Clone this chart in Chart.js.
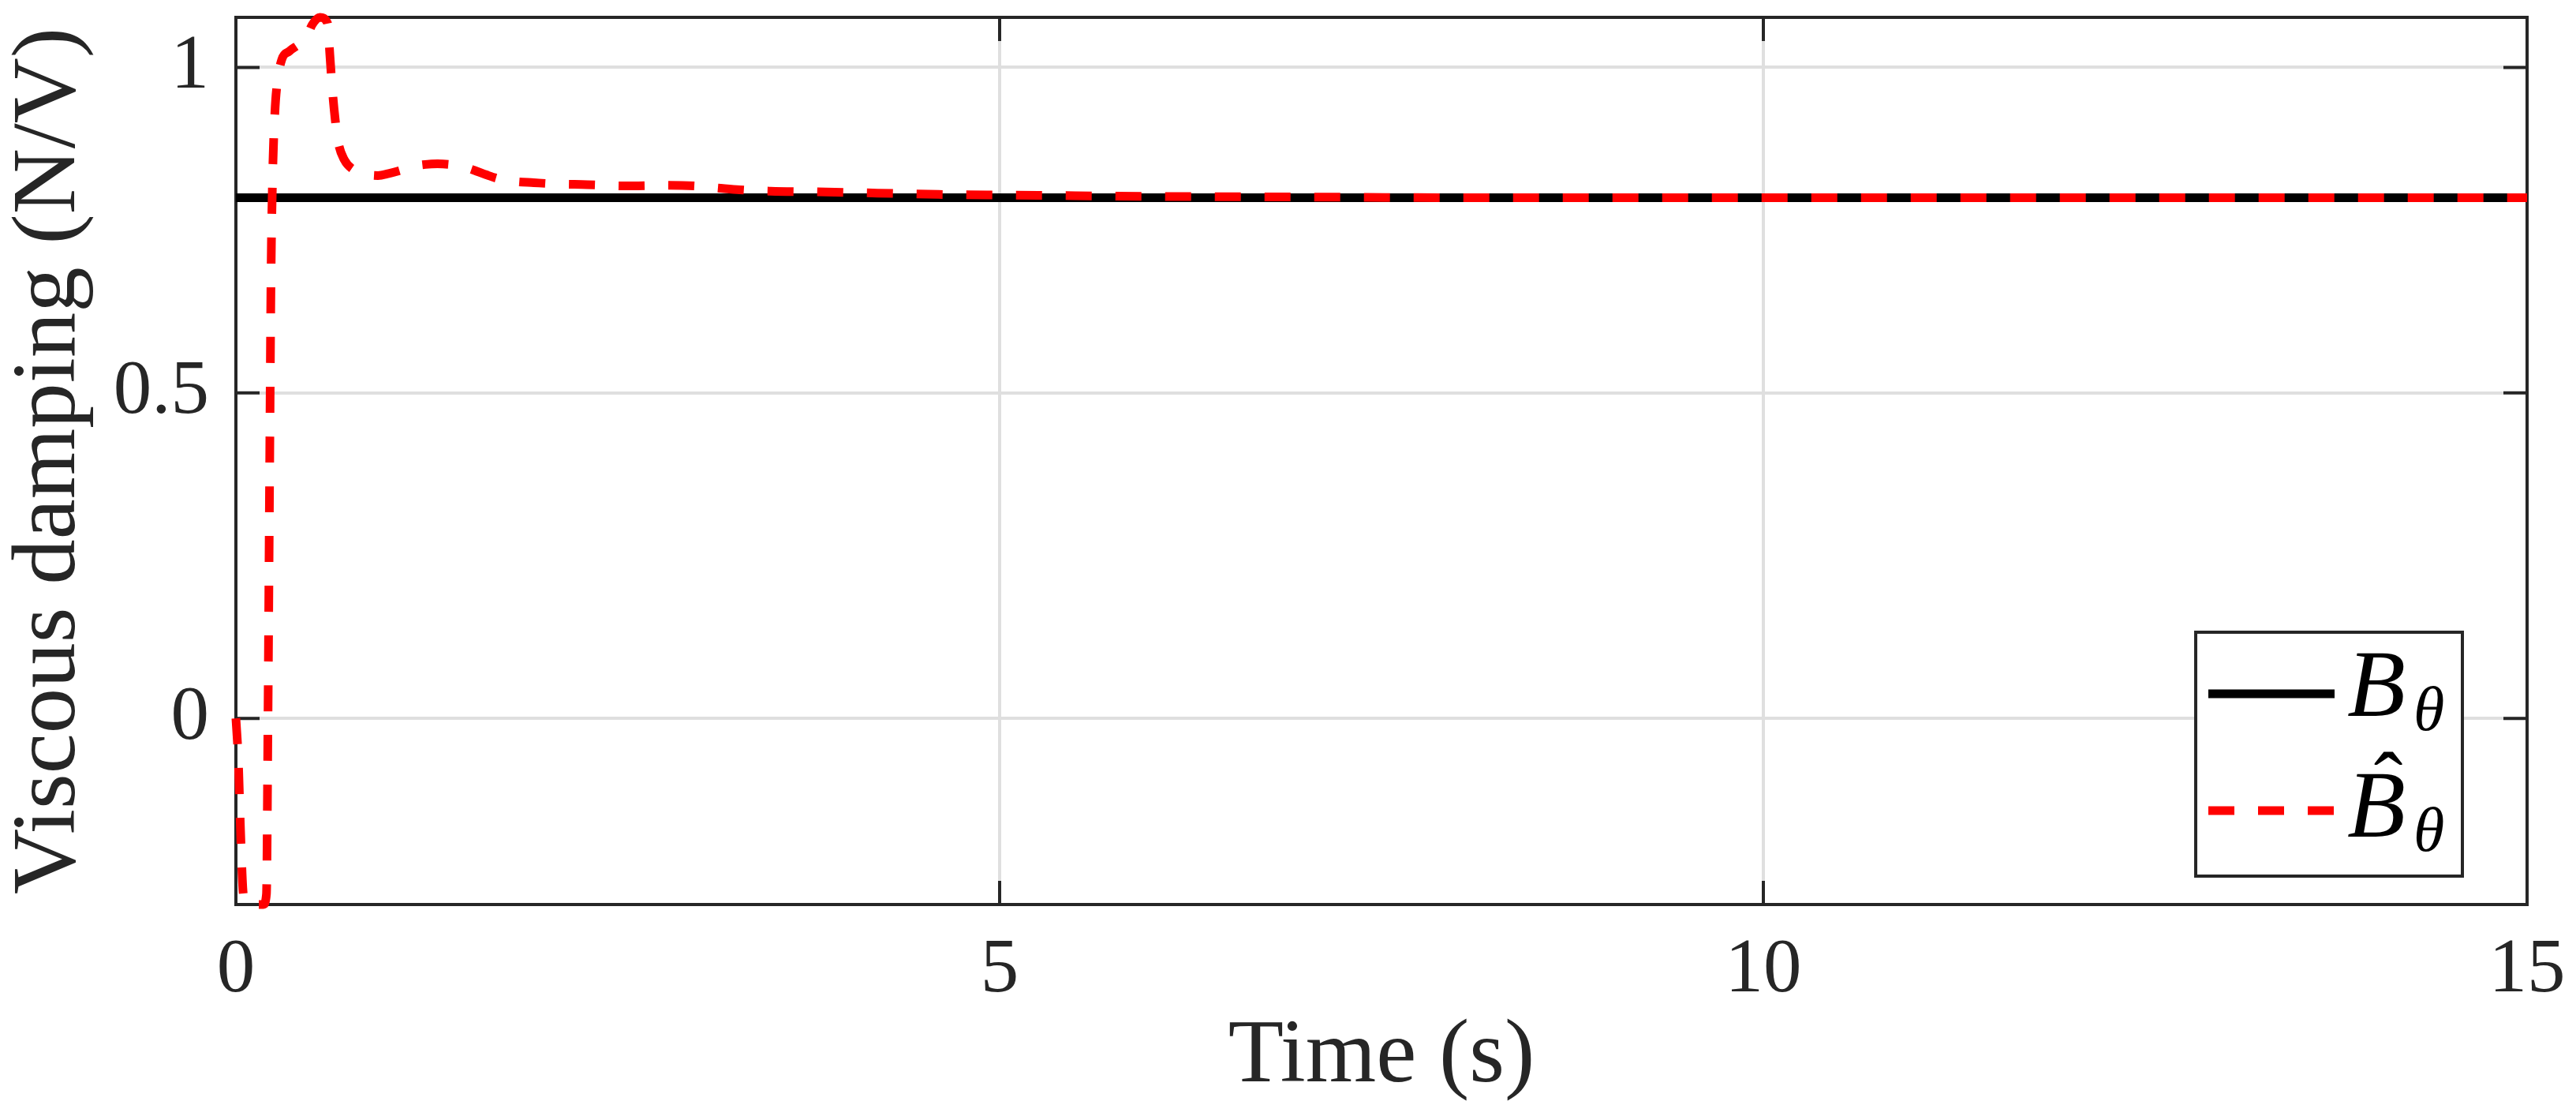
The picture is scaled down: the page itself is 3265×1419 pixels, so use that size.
<!DOCTYPE html>
<html>
<head>
<meta charset="utf-8">
<script src="https://cdn.jsdelivr.net/npm/chart.js@4.4.1/dist/chart.umd.min.js"></script>
<style>
  html, body { margin: 0; padding: 0; background: #fff; overflow: hidden; }
  canvas { display: block; }
</style>
</head>
<body>
<canvas id="dampingChart" width="3265" height="1419"></canvas>
<script>
// estimated viscous damping (red dashed)
const timeS = [0, 0.015, 0.03, 0.045, 0.06, 0.1, 0.14, 0.18, 0.2, 0.21, 0.22, 0.23, 0.24, 0.255, 0.27, 0.3,
  0.35, 0.41, 0.46, 0.5, 0.55, 0.6, 0.615, 0.63, 0.65, 0.67, 0.71, 0.77, 0.85, 0.93, 1.0, 1.08, 1.16, 1.24,
  1.32, 1.4, 1.48, 1.56, 1.64, 1.72, 1.82, 1.95, 2.1, 2.3, 2.55, 2.8, 3.0, 3.15, 3.3, 3.5, 3.8, 4.2, 4.6,
  5.0, 5.5, 6.0, 7.0, 8.0, 10, 12, 15];
const estB = [0, -0.06, -0.17, -0.26, -0.283, -0.286, -0.286, -0.286, -0.27, 0.0, 0.35, 0.68, 0.83, 0.93, 0.975, 1.012,
  1.025, 1.035, 1.045, 1.066, 1.077, 1.068, 1.02, 0.97, 0.92, 0.885, 0.858, 0.843, 0.836, 0.834, 0.837, 0.842, 0.848, 0.851,
  0.852, 0.851, 0.848, 0.842, 0.835, 0.829, 0.825, 0.823, 0.821, 0.82, 0.818, 0.819, 0.818, 0.815, 0.812, 0.81, 0.809, 0.807, 0.805,
  0.804, 0.803, 0.802, 0.801, 0.8, 0.8, 0.8, 0.8];

// true viscous damping (black)
const trueT = [0, 15];
const trueB = [0.8, 0.8];

const xTicks = [0, 5, 10, 15];
const yTicks = [0, 0.5, 1];
const yMin = -0.286, yMax = 1.077;

const axisColor = '#262626';
const serif = "'Liberation Serif', 'Times New Roman', serif";

const toPoints = (xs, ys) => xs.map((x, i) => ({ x: x, y: ys[i] }));

// axes box with inward ticks on all four sides
const framePlugin = {
  id: 'frame',
  beforeDatasetsDraw(chart) {
    const { ctx, chartArea: a, scales } = chart;
    ctx.save();
    ctx.strokeStyle = axisColor;
    ctx.lineWidth = 4;
    ctx.beginPath();
    yTicks.forEach(v => {
      const py = scales.y.getPixelForValue(v);
      ctx.moveTo(a.left, py); ctx.lineTo(a.left + 30, py);
      ctx.moveTo(a.right, py); ctx.lineTo(a.right - 30, py);
    });
    xTicks.forEach(v => {
      const px = scales.x.getPixelForValue(v);
      ctx.moveTo(px, a.bottom); ctx.lineTo(px, a.bottom - 30);
      ctx.moveTo(px, a.top); ctx.lineTo(px, a.top + 30);
    });
    ctx.stroke();
    ctx.strokeRect(a.left, a.top, a.right - a.left, a.bottom - a.top);
    ctx.restore();
  }
};

// legend box in the lower right corner
const legendPlugin = {
  id: 'boxLegend',
  afterDraw(chart) {
    const { ctx, chartArea: a } = chart;
    const w = 338, h = 309;
    const left = a.right - 82 - w;
    const top = a.bottom - 36 - h;
    ctx.save();
    ctx.fillStyle = '#fff';
    ctx.fillRect(left, top, w, h);
    ctx.strokeStyle = axisColor;
    ctx.lineWidth = 4;
    ctx.strokeRect(left, top, w, h);

    const rows = [
      { ds: chart.data.datasets[1], lineY: top + 78, base: top + 106, hat: false },
      { ds: chart.data.datasets[0], lineY: top + 226, base: top + 259, hat: true }
    ];
    rows.forEach(r => {
      ctx.strokeStyle = r.ds.borderColor;
      ctx.lineWidth = r.ds.borderWidth;
      ctx.setLineDash(r.ds.borderDash || []);
      ctx.beginPath();
      ctx.moveTo(left + 16, r.lineY);
      ctx.lineTo(left + 176, r.lineY);
      ctx.stroke();
      ctx.setLineDash([]);

      const tx = left + 192;
      ctx.fillStyle = '#000';
      ctx.textBaseline = 'alphabetic';
      ctx.textAlign = 'left';
      ctx.font = 'italic 121px ' + serif;
      ctx.fillText('B', tx, r.base);
      const bw = ctx.measureText('B').width;
      ctx.font = 'italic 80px ' + serif;
      ctx.fillText('θ', tx + bw + 10, r.base + 18);
      if (r.hat) {
        ctx.font = '110px ' + serif;
        ctx.textAlign = 'center';
        const m = ctx.measureText('ˆ');
        ctx.fillText('ˆ', tx + 52, top + 151 + m.actualBoundingBoxAscent);
      }
    });
    ctx.restore();
  }
};

new Chart(document.getElementById('dampingChart'), {
  type: 'line',
  data: {
    datasets: [
      {
        label: 'B̂θ',
        data: toPoints(timeS, estB),
        borderColor: '#ff0000',
        borderWidth: 11,
        borderDash: [33, 30],
        borderCapStyle: 'butt',
        cubicInterpolationMode: 'monotone',
        pointRadius: 0,
        clip: false,
        order: 1
      },
      {
        label: 'Bθ',
        data: toPoints(trueT, trueB),
        borderColor: '#000000',
        borderWidth: 11,
        pointRadius: 0,
        clip: false,
        order: 2
      }
    ]
  },
  options: {
    responsive: false,
    devicePixelRatio: 1,
    animation: false,
    layout: { padding: { top: 22, right: 62, bottom: 0, left: 0 } },
    plugins: { legend: { display: false }, tooltip: { enabled: false } },
    scales: {
      x: {
        type: 'linear',
        min: 0,
        max: 15,
        afterBuildTicks: s => { s.ticks = xTicks.map(v => ({ value: v })); },
        afterFit: s => { s.height = 273; s.paddingLeft = 0; s.paddingRight = 0; },
        grid: { color: '#dfdfdf', lineWidth: 4, drawTicks: false },
        border: { display: false },
        ticks: {
          color: axisColor,
          padding: 26,
          maxRotation: 0,
          font: { family: serif, size: 97 },
          callback: v => String(v)
        },
        title: {
          display: true,
          text: 'Time (s)',
          color: axisColor,
          font: { family: serif, size: 115, lineHeight: 1.2 },
          padding: { top: 0, bottom: 10 }
        }
      },
      y: {
        type: 'linear',
        min: yMin,
        max: yMax,
        afterBuildTicks: s => { s.ticks = yTicks.map(v => ({ value: v })); },
        afterFit: s => { s.width = 299; s.paddingTop = 0; s.paddingBottom = 0; },
        grid: { color: '#dfdfdf', lineWidth: 4, drawTicks: false },
        border: { display: false },
        ticks: {
          color: axisColor,
          padding: 34,
          font: { family: serif, size: 97 },
          callback: v => String(v)
        },
        title: {
          display: true,
          text: 'Viscous damping (N/V)',
          color: axisColor,
          font: { family: serif, size: 115, lineHeight: 1.104 },
          padding: { top: 0, bottom: 0 }
        }
      }
    }
  },
  plugins: [framePlugin, legendPlugin]
});
</script>
</body>
</html>
